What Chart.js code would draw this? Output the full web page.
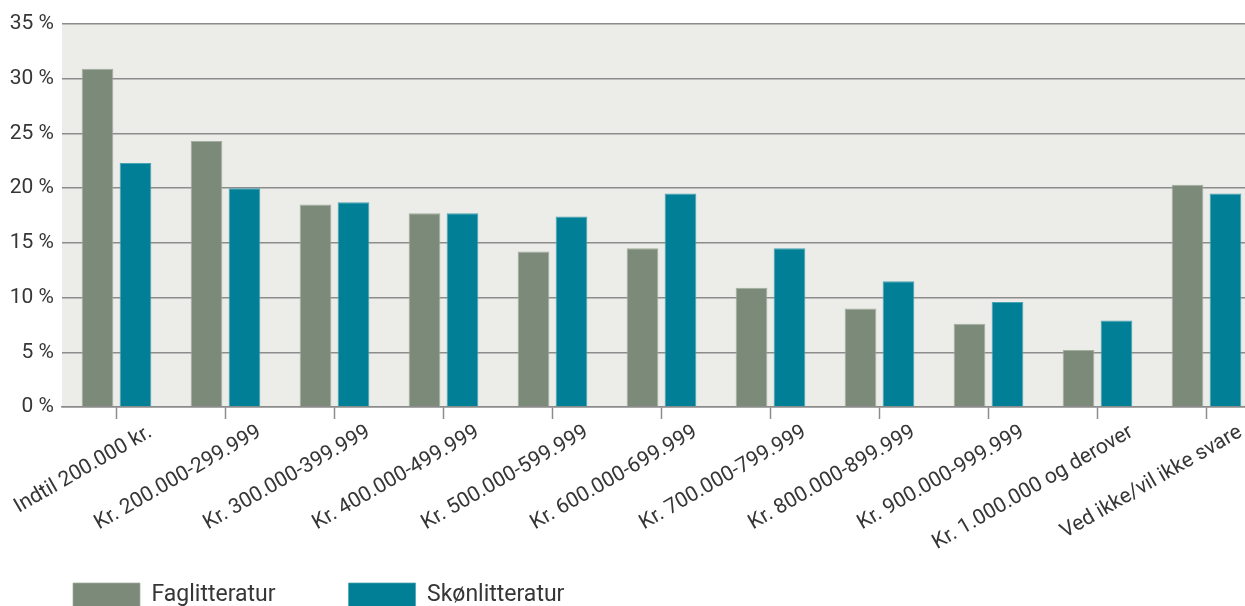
<!DOCTYPE html>
<html lang="da">
<head>
<meta charset="utf-8">
<title>Indkomst fordelt på faglitteratur og skønlitteratur</title>
<script src="https://cdn.jsdelivr.net/npm/chart.js@4.4.1/dist/chart.umd.min.js"></script>
<style>
  html, body { margin: 0; padding: 0; background: #ffffff; overflow: hidden; }
  #wrap { width: 1261px; height: 617px; }
</style>
</head>
<body>
<div id="wrap"><canvas id="chart" width="1261" height="617"></canvas></div>
<script>
// Income brackets
const categories = [
  'Indtil 200.000 kr.',
  'Kr. 200.000-299.999',
  'Kr. 300.000-399.999',
  'Kr. 400.000-499.999',
  'Kr. 500.000-599.999',
  'Kr. 600.000-699.999',
  'Kr. 700.000-799.999',
  'Kr. 800.000-899.999',
  'Kr. 900.000-999.999',
  'Kr. 1.000.000 og derover',
  'Ved ikke/vil ikke svare'
];

// Share of respondents (%)
const faglitteratur = [30.9, 24.3, 18.5, 17.7, 14.2, 14.5, 10.9, 9.0, 7.6, 5.2, 20.3];
const skonlitteratur = [22.3, 20.0, 18.7, 17.7, 17.4, 19.5, 14.5, 11.5, 9.6, 7.9, 19.5];

// Value axis ticks
const yTicks = [0, 5, 10, 15, 20, 25, 30, 35];

const GRID = '#8c8c8c';
const TEXT = '#363636';

// Fills the plot area with a light grey panel
const plotBackground = {
  id: 'plotBackground',
  beforeDraw(chart) {
    const { ctx, chartArea: a } = chart;
    ctx.save();
    ctx.fillStyle = '#ececE8';
    ctx.fillRect(a.left, a.top, a.right - a.left, a.bottom - a.top);
    ctx.restore();
  }
};

// The rotated category labels run down past the compact x-axis box;
// widen the label clip region so they are drawn in full.
const fullLabelClip = {
  id: 'fullLabelClip',
  afterLayout(chart) {
    chart.scales.x.bottom = chart.height;
  }
};

Chart.defaults.font.family = 'Roboto, "Open Sans", sans-serif';
Chart.defaults.color = TEXT;

new Chart(document.getElementById('chart'), {
  type: 'bar',
  data: {
    labels: categories,
    datasets: [
      {
        label: 'Faglitteratur',
        data: faglitteratur,
        backgroundColor: '#7c8b79',
        borderColor: '#a3ada0',
        borderWidth: { top: 1, left: 1, right: 1, bottom: 0 },
        borderSkipped: false,
        categoryPercentage: 0.697,
        barPercentage: 0.834
      },
      {
        label: 'Skønlitteratur',
        data: skonlitteratur,
        backgroundColor: '#007f96',
        borderColor: '#48a3b3',
        borderWidth: { top: 1, left: 1, right: 1, bottom: 0 },
        borderSkipped: false,
        categoryPercentage: 0.697,
        barPercentage: 0.834
      }
    ]
  },
  options: {
    responsive: false,
    animation: false,
    devicePixelRatio: 1,
    layout: { padding: { top: 24, left: 0, right: 0, bottom: 0 } },
    plugins: {
      tooltip: { enabled: false },
      legend: {
        position: 'bottom',
        align: 'start',
        labels: {
          boxWidth: 67,
          boxHeight: 24,
          padding: 73,
          color: TEXT,
          font: { size: 23 }
        }
      }
    },
    scales: {
      x: {
        offset: true,
        grid: {
          offset: false,
          drawOnChartArea: false,
          drawTicks: true,
          tickLength: 12,
          tickWidth: 1.5,
          tickColor: GRID,
          color: GRID
        },
        border: { display: true, color: GRID, width: 1.5 },
        ticks: {
          autoSkip: false,
          minRotation: 30,
          maxRotation: 30,
          padding: 1,
          labelOffset: 34,
          color: TEXT,
          font: { size: 21 }
        },
        afterFit(scale) {
          scale.height = 103;
          scale.paddingLeft = 0;
          scale.paddingRight = 0;
        }
      },
      y: {
        min: 0,
        max: 35,
        afterBuildTicks(scale) {
          scale.ticks = yTicks.map(v => ({ value: v }));
        },
        grid: {
          color: GRID,
          lineWidth: 1.5,
          drawTicks: false
        },
        border: { display: false },
        ticks: {
          padding: 8,
          color: TEXT,
          font: { size: 21 },
          callback: v => v + ' %'
        },
        afterFit(scale) {
          scale.width = 62;
          scale.paddingTop = 0;
          scale.paddingBottom = 0;
        }
      }
    }
  },
  plugins: [plotBackground, fullLabelClip]
});
</script>
</body>
</html>
